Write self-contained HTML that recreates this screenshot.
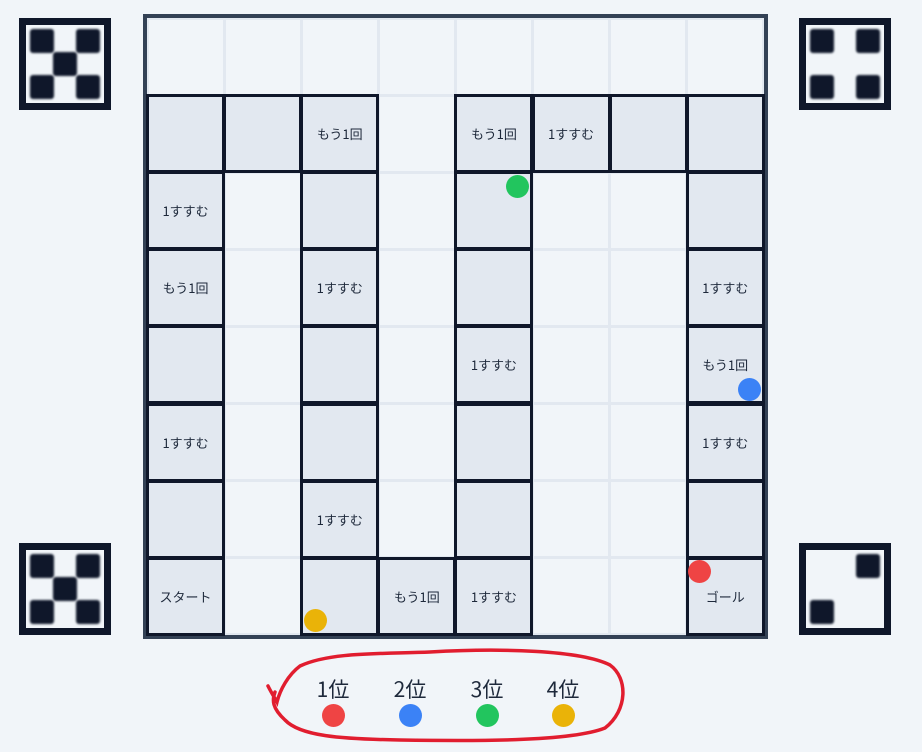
<!DOCTYPE html>
<html><head><meta charset="utf-8"><style>
body{margin:0;width:922px;height:752px;background:#f1f5f9;position:relative;overflow:hidden;font-family:"Liberation Sans","Noto Sans CJK JP",sans-serif}
#board{position:absolute;left:143px;top:14px;width:617px;height:617px;border:4px solid #334155;background:#e2e8f0}
.cell{position:absolute;box-sizing:border-box;background:#f1f5f9}
.act{background:#e2e8f0;border:3px solid #0f172a;display:flex;align-items:center;justify-content:center;font-size:13px;color:#1e293b;font-family:"Noto Sans CJK JP",sans-serif}
.piece{position:absolute;width:23px;height:23px;border-radius:50%}
.die{position:absolute;width:92px;height:92px;box-sizing:border-box;background:#0f172a}
.die .in{position:absolute;left:7px;top:7px;right:7px;bottom:7px;background:#f1f5f9}
.pip{position:absolute;width:24px;height:24px;background:#0f172a;border-radius:3px;filter:blur(1px)}
.leg{position:absolute;top:674px;font-size:21px;color:#1e293b;width:60px;text-align:center;font-family:"Noto Sans CJK JP",sans-serif}
.ld{position:absolute;top:704px;width:23px;height:23px;border-radius:50%}
</style></head><body>
<div id="board"></div>
<div id="dice"></div>
<div class="leg" style="left:303px">1位</div>
<div class="leg" style="left:380px">2位</div>
<div class="leg" style="left:457px">3位</div>
<div class="leg" style="left:533px">4位</div>
<div class="ld" style="left:322px;background:#ef4444"></div>
<div class="ld" style="left:399px;background:#3b82f6"></div>
<div class="ld" style="left:476px;background:#22c55e"></div>
<div class="ld" style="left:552px;background:#eab308"></div>
<svg width="922" height="752" style="position:absolute;left:0;top:0;pointer-events:none">
<path d="M268 686 C272 694 276 700 277 702 C280 690 288 675 300 666 C330 652 380 654 430 652 C500 648 580 650 610 665 C628 678 628 710 605 728 C570 742 470 741 400 740 C340 739 300 736 285 720 C272 708 272 700 275 692" fill="none" stroke="#e11d2f" stroke-width="3.5" stroke-linecap="round"/>
</svg>
<script>
const board=document.getElementById('board');
const active=[[1,0,''],[1,1,''],[1,2,'もう1回'],[1,4,'もう1回'],[1,5,'1すすむ'],[1,6,''],[1,7,''],
[2,0,'1すすむ'],[2,2,''],[2,4,''],[2,7,''],
[3,0,'もう1回'],[3,2,'1すすむ'],[3,4,''],[3,7,'1すすむ'],
[4,0,''],[4,2,''],[4,4,'1すすむ'],[4,7,'もう1回'],
[5,0,'1すすむ'],[5,2,''],[5,4,''],[5,7,'1すすむ'],
[6,0,''],[6,2,'1すすむ'],[6,4,''],[6,7,''],
[7,0,'スタート'],[7,2,''],[7,3,'もう1回'],[7,4,'1すすむ'],[7,7,'ゴール']];
const P=77.1;
for(let r=0;r<8;r++)for(let c=0;c<8;c++){
  const d=document.createElement('div');d.className='cell';
  
  
  d.style.left=(c*P+1.5)+'px';d.style.top=(r*P+1.5)+'px';d.style.width=(P-3)+'px';d.style.height=(P-3)+'px';
  board.appendChild(d);
}
active.forEach(([r,c,t])=>{
  const d=document.createElement('div');d.className='cell act';
  
  
  d.style.left=(c*P-1)+'px';d.style.top=(r*P-1)+'px';d.style.width=(P+2)+'px';d.style.height=(P+2)+'px';
  d.textContent=t;board.appendChild(d);
});
const pieces=[[517,186,'#22c55e'],[749,389,'#3b82f6'],[699,571,'#ef4444'],[315,620,'#eab308']];
pieces.forEach(([x,y,col])=>{
  const d=document.createElement('div');d.className='piece';
  
  
  d.style.left=(x-11.5)+'px';d.style.top=(y-11.5)+'px';d.style.background=col;document.body.appendChild(d);
});
const dice=[[19,18,5],[799,18,4],[19,543,5],[799,543,2]];
const faces={5:[[0,0],[2,0],[1,1],[0,2],[2,2]],4:[[0,0],[2,0],[0,2],[2,2]],2:[[2,0],[0,2]]};
dice.forEach(([x,y,n])=>{
  const d=document.createElement('div');d.className='die';
  
  
  d.style.left=x+'px';d.style.top=y+'px';
  const i=document.createElement('div');i.className='in';d.appendChild(i);
  faces[n].forEach(([a,b])=>{const p=document.createElement('div');p.className='pip';
    
    
    p.style.left=(11+a*23)+'px';p.style.top=(11+b*23)+'px';d.appendChild(p);});
  document.body.appendChild(d);
});
</script>
</body></html>
